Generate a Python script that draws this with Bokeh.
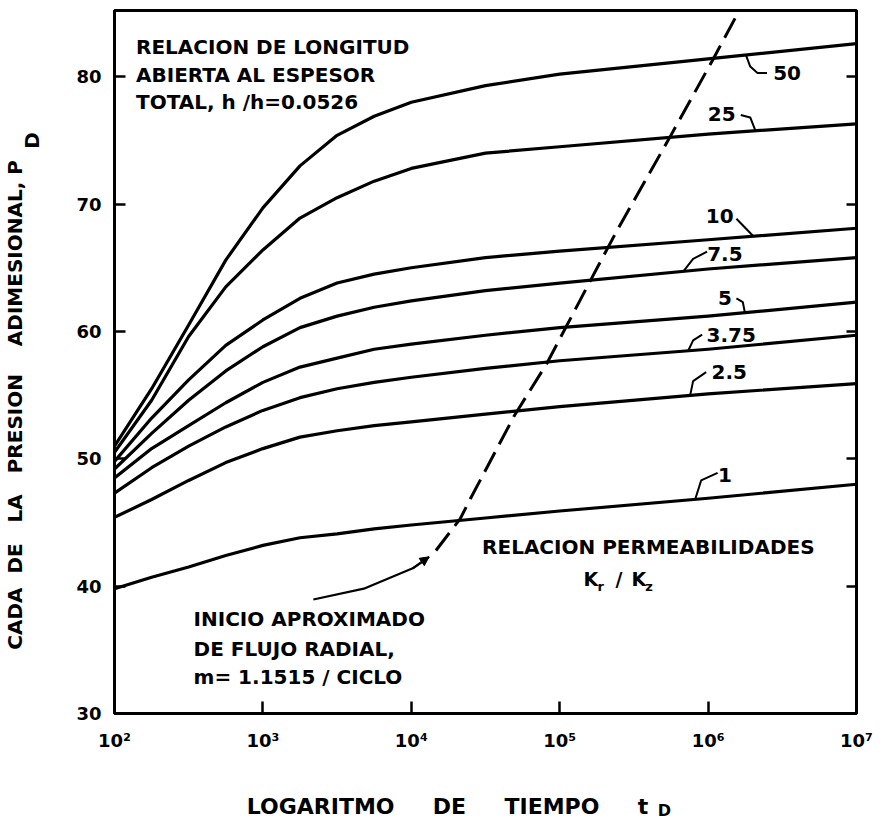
from bokeh.plotting import figure
from bokeh.models import (ColumnDataSource, LinearAxis, LogAxis, FixedTicker,
                          Range1d, Arrow, NormalHead)
from bokeh.core.properties import value
from bokeh.embed import file_html
from bokeh.resources import INLINE

# ---------------- data ----------------
t_d = [100, 178, 316, 562, 1000, 1778, 3162, 5623, 10000, 31623,
       100000, 1000000, 10000000]

pd_50   = [51.0, 55.5, 60.5, 65.6, 69.7, 73.0, 75.4, 76.9, 78.0, 79.3, 80.2, 81.4, 82.6]
pd_25   = [50.5, 54.6, 59.6, 63.5, 66.4, 68.9, 70.5, 71.8, 72.8, 74.0, 74.5, 75.5, 76.3]
pd_10   = [49.8, 53.2, 56.2, 58.9, 60.9, 62.6, 63.8, 64.5, 65.0, 65.8, 66.3, 67.2, 68.1]
pd_7_5  = [49.2, 52.0, 54.6, 56.9, 58.8, 60.3, 61.2, 61.9, 62.4, 63.2, 63.8, 64.9, 65.8]
pd_5    = [48.5, 50.8, 52.6, 54.4, 56.0, 57.2, 57.9, 58.6, 59.0, 59.7, 60.3, 61.2, 62.3]
pd_3_75 = [47.3, 49.3, 51.0, 52.5, 53.8, 54.8, 55.5, 56.0, 56.4, 57.1, 57.7, 58.6, 59.7]
pd_2_5  = [45.4, 46.8, 48.3, 49.7, 50.8, 51.7, 52.2, 52.6, 52.9, 53.5, 54.1, 55.1, 55.9]
pd_1    = [39.8, 40.7, 41.5, 42.4, 43.2, 43.8, 44.1, 44.5, 44.8, 45.35, 45.9, 46.9, 48.0]

series = [pd_50, pd_25, pd_10, pd_7_5, pd_5, pd_3_75, pd_2_5, pd_1]

# approximate start of radial flow (dashed) and its leader line
radial_t = [14660, 21380, 25120, 49550, 82040, 169800, 242700, 549500, 1072000, 1622000]
radial_p = [42.8, 45.3, 46.9, 53.4, 57.5, 64.5, 67.9, 75.2, 81.3, 85.2]
leader_t = [2188, 4786, 10230, 13180]
leader_p = [38.95, 39.8, 41.4, 42.3]

# curve labels (kr/kz ratios)
ratio_labels = ["50", "25", "10", "7.5", "5", "3.75", "2.5", "1"]
ratio_lab_t = [3404000, 1236000, 1197000, 1297000, 1297000, 1432000, 1387000, 1297000]
ratio_lab_p = [80.3, 77.1, 69.1, 66.05, 62.6, 59.75, 56.85, 48.76]

hooks_t = [
    [1799000, 1923000, 2153000, 2495000],
    [1660000, 1923000, 2084000],
    [1552000, 2018000],
    [984000, 792500, 679200],
    [1552000, 1714000, 1770000],
    [912000, 792500, 734500],
    [970500, 792500, 756800],
    [1159000, 897500, 818400],
]
hooks_p = [
    [81.7, 80.8, 80.3, 80.3],
    [77.0, 76.8, 75.76],
    [68.85, 67.47],
    [66.26, 65.7, 64.7],
    [62.6, 62.3, 61.47],
    [59.75, 59.3, 58.48],
    [56.8, 56.1, 54.98],
    [48.9, 48.3, 46.81],
]

y_ticks = [30, 40, 50, 60, 70, 80]
x_ticks = [100, 1000, 10000, 100000, 1000000, 10000000]
x_tick_labels = ["10\u00b2", "10\u00b3", "10\u2074", "10\u2075", "10\u2076", "10\u2077"]

note_lines = ["RELACION DE LONGITUD", "ABIERTA AL ESPESOR", "TOTAL, h  /h=0.0526"]
note_t = [139.6, 139.6, 139.6]
note_p = [82.3, 80.1, 78.0]

flow_lines = ["INICIO  APROXIMADO", "DE FLUJO RADIAL,", "m= 1.1515 / CICLO"]
flow_t = [341, 341, 341]
flow_p = [37.4, 35.1, 32.9]

nb = "\u00a0"
y_title = "CADA" + nb * 2 + "DE" + nb * 3 + "LA" + nb * 3 + "PRESION" + nb * 4 + "ADIMESIONAL," + nb + "P"
x_title = "LOGARITMO" + nb * 5 + "DE" + nb * 5 + "TIEMPO" + nb * 5 + "t"
title_sub = "D"

FONT = "DejaVu Sans"

# ---------------- figure ----------------
p = figure(width=880, height=823, x_axis_type="log",
           x_range=Range1d(100, 1e7), y_range=Range1d(30, 85.2),
           output_backend="svg", toolbar_location=None,
           min_border_left=114, min_border_right=24,
           min_border_top=10, min_border_bottom=110)
p.xgrid.visible = False
p.ygrid.visible = False
p.outline_line_color = "black"
p.outline_line_width = 3
p.background_fill_color = "white"


def plain(ax):
    ax.axis_line_color = None
    ax.major_tick_line_color = None
    ax.minor_tick_line_color = None
    ax.major_tick_in = 0
    ax.major_tick_out = 0
    ax.major_label_text_font = FONT
    ax.major_label_text_font_style = "bold"
    ax.major_label_text_color = "black"


# left axis
ya = p.yaxis[0]
ya.ticker = FixedTicker(ticks=y_ticks)
ya.major_tick_in = 11
ya.major_tick_out = 0
ya.minor_tick_line_color = None
ya.axis_line_width = 3
ya.major_tick_line_width = 2.5
ya.major_label_text_font = FONT
ya.major_label_text_font_style = "bold"
ya.major_label_text_font_size = "18px"
ya.major_label_text_color = "black"
ya.major_label_standoff = 13

# y title: subscript first (inner), then main text (outer)
y_sub_axis = LinearAxis(ticker=FixedTicker(ticks=[75.0]), major_label_overrides={75.0: title_sub})
plain(y_sub_axis)
y_sub_axis.major_label_orientation = "vertical"
y_sub_axis.major_label_text_font_size = "20px"
y_sub_axis.major_label_standoff = 29
p.add_layout(y_sub_axis, "left")

y_main_axis = LinearAxis(ticker=FixedTicker(ticks=[54.23]), major_label_overrides={54.23: y_title})
plain(y_main_axis)
y_main_axis.major_label_orientation = "vertical"
y_main_axis.major_label_text_font_size = "20px"
y_main_axis.major_label_standoff = -10
p.add_layout(y_main_axis, "left")

# bottom axis
xa = p.xaxis[0]
xa.ticker = FixedTicker(ticks=x_ticks)
xa.major_label_overrides = {k: v for k, v in zip(x_ticks, x_tick_labels)}
xa.major_tick_in = 12
xa.major_tick_out = 0
xa.minor_tick_line_color = None
xa.axis_line_width = 3
xa.major_tick_line_width = 2.5
xa.major_label_text_font = FONT
xa.major_label_text_font_style = "bold"
xa.major_label_text_font_size = "18px"
xa.major_label_text_color = "black"
xa.major_label_standoff = 16

x_main_axis = LogAxis(ticker=FixedTicker(ticks=[17540]), major_label_overrides={17540: x_title})
plain(x_main_axis)
x_main_axis.major_label_text_font_size = "22px"
x_main_axis.major_label_standoff = 40
p.add_layout(x_main_axis, "below")

x_sub_axis = LogAxis(ticker=FixedTicker(ticks=[508000]), major_label_overrides={508000: title_sub})
plain(x_sub_axis)
x_sub_axis.major_label_text_font_size = "16px"
x_sub_axis.major_label_standoff = -21
p.add_layout(x_sub_axis, "below")

# right axis (ticks only)
ra = LinearAxis(ticker=FixedTicker(ticks=y_ticks[1:]))
ra.major_tick_in = 10
ra.major_tick_out = 0
ra.minor_tick_line_color = None
ra.axis_line_width = 3
ra.major_tick_line_width = 2.5
ra.major_label_text_color = None
ra.major_label_text_font_size = "1px"
ra.major_label_standoff = 0
p.add_layout(ra, "right")

# curves
for s in series:
    p.line(t_d, s, line_color="black", line_width=3.2, line_join="round")

# radial-flow dashed line and leader
p.line(radial_t, radial_p, line_color="black", line_width=3, line_dash="22 9")
p.line(leader_t, leader_p, line_color="black", line_width=2.2)
p.add_layout(Arrow(end=NormalHead(size=9, fill_color="black", line_color="black"),
                   x_start=leader_t[-2], y_start=leader_p[-2],
                   x_end=leader_t[-1], y_end=leader_p[-1],
                   line_color="black", line_width=2))

# hooks for the curve labels
p.multi_line(hooks_t, hooks_p, line_color="black", line_width=2)

lab_src = ColumnDataSource(dict(x=ratio_lab_t, y=ratio_lab_p, text=ratio_labels))
p.text(x="x", y="y", text="text", source=lab_src, text_align="center",
       text_baseline="middle", text_font=value(FONT), text_font_style="bold",
       text_font_size="20px", text_color="black")

note_src = ColumnDataSource(dict(x=note_t, y=note_p, text=note_lines))
p.text(x="x", y="y", text="text", source=note_src, text_align="left",
       text_baseline="alphabetic", text_font=value(FONT), text_font_style="bold",
       text_font_size="20px", text_color="black")

flow_src = ColumnDataSource(dict(x=flow_t, y=flow_p, text=flow_lines))
p.text(x="x", y="y", text="text", source=flow_src, text_align="left",
       text_baseline="alphabetic", text_font=value(FONT), text_font_style="bold",
       text_font_size="20px", text_color="black")

p.text(x=[395500], y=[43.1], text=["RELACION PERMEABILIDADES"], text_align="center",
       text_baseline="alphabetic", text_font=value(FONT), text_font_style="bold",
       text_font_size="20px", text_color="black")

# K_r / K_z
p.text(x=[144900, 237700, 304100], y=[40.6, 40.6, 40.6], text=["K", "/", "K"],
       text_align="left", text_baseline="alphabetic", text_font=value(FONT),
       text_font_style="bold", text_font_size="19px", text_color="black")
p.text(x=[179900, 377600], y=[40.0, 40.0], text=["r", "z"],
       text_align="left", text_baseline="alphabetic", text_font=value(FONT),
       text_font_style="bold", text_font_size="13px", text_color="black")

with open("out.html", "w", encoding="utf-8") as f:
    f.write(file_html(p, INLINE))
